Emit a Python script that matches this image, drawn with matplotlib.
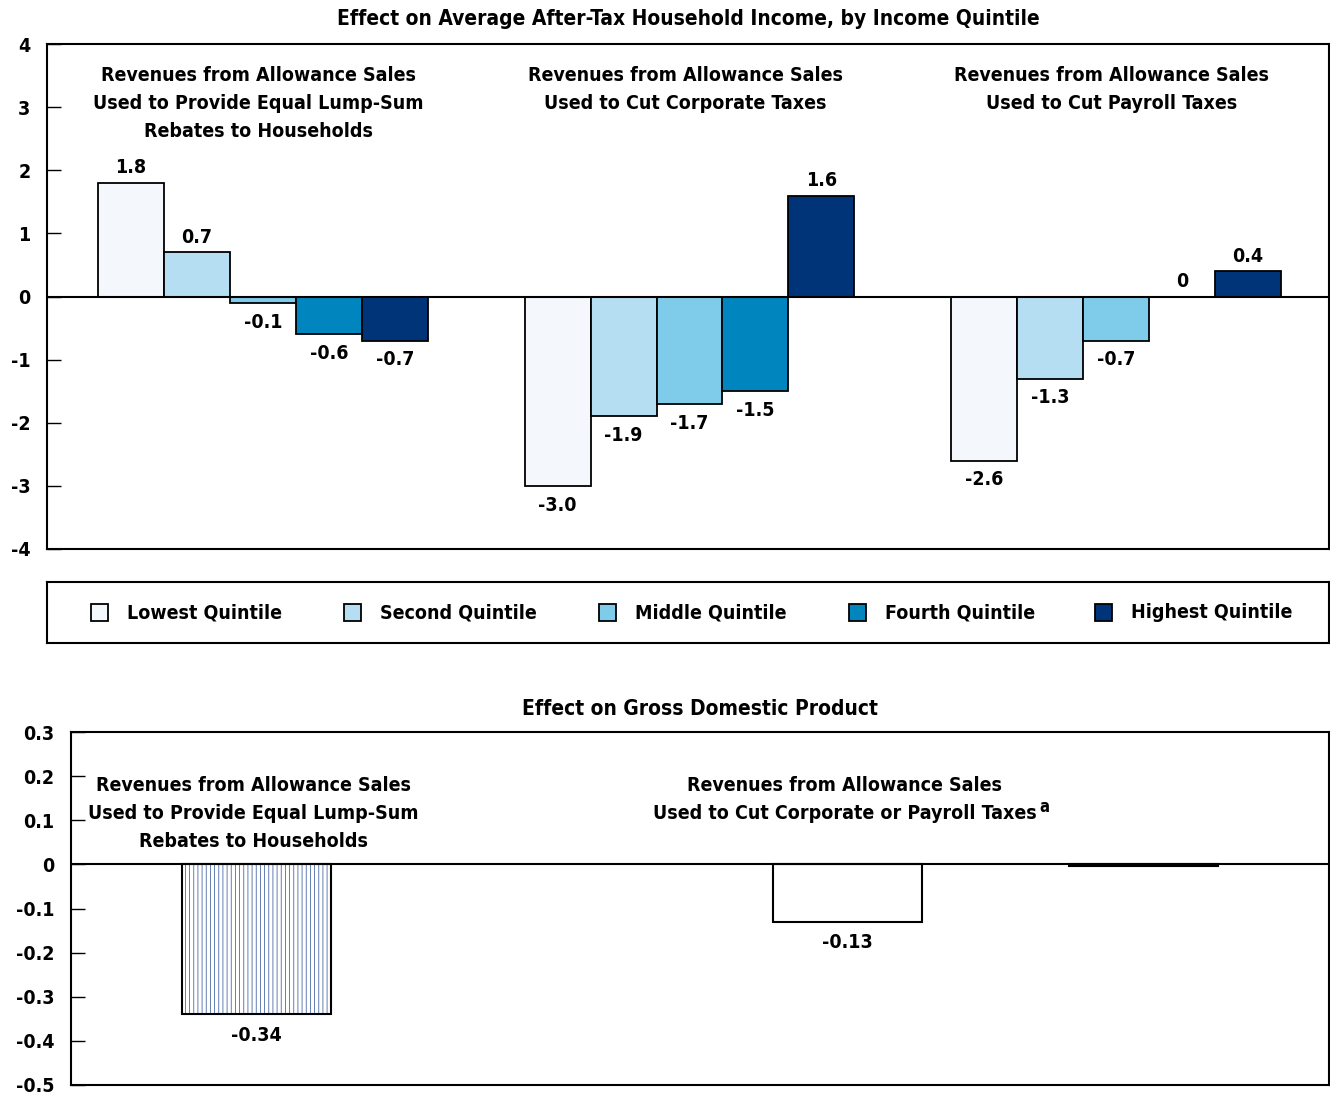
import matplotlib
matplotlib.use("Agg")
import matplotlib.pyplot as plt
from matplotlib.patches import Rectangle
import numpy as np

# ---- data ----
quintiles = ["Lowest Quintile", "Second Quintile", "Middle Quintile",
             "Fourth Quintile", "Highest Quintile"]
scenarios_top = [
    "Revenues from Allowance Sales\nUsed to Provide Equal Lump-Sum\nRebates to Households",
    "Revenues from Allowance Sales\nUsed to Cut Corporate Taxes",
    "Revenues from Allowance Sales\nUsed to Cut Payroll Taxes",
]
lump_sum = [1.8, 0.7, -0.1, -0.6, -0.7]
corporate = [-3.0, -1.9, -1.7, -1.5, 1.6]
payroll = [-2.6, -1.3, -0.7, 0.0, 0.4]
top_labels = [["1.8", "0.7", "-0.1", "-0.6", "-0.7"],
              ["-3.0", "-1.9", "-1.7", "-1.5", "1.6"],
              ["-2.6", "-1.3", "-0.7", "0", "0.4"]]
top_ticks = [-4, -3, -2, -1, 0, 1, 2, 3, 4]

gdp_bars = ["Lump-Sum Rebates", "Corporate Taxes", "Payroll Taxes"]
gdp_values = [-0.34, -0.13, -0.003]
gdp_labels = ["-0.34", "-0.13", ""]
bottom_ticks = [-0.5, -0.4, -0.3, -0.2, -0.1, 0, 0.1, 0.2, 0.3]
bottom_ticklabels = ["-0.5", "-0.4", "-0.3", "-0.2", "-0.1", "0", "0.1", "0.2", "0.3"]

colors = ["#F4F8FC", "#B5DEF3", "#7FCCEA", "#0085BE", "#003478"]

plt.rcParams["font.family"] = "DejaVu Sans"
plt.rcParams["font.stretch"] = "condensed"
plt.rcParams["font.weight"] = "bold"
plt.rcParams["hatch.linewidth"] = 0.6
plt.rcParams["hatch.color"] = "#4a6aa8"

W, H = 1330, 1097
fig = plt.figure(figsize=(W / 100, H / 100), dpi=100)

def rect(x0, y0, x1, y1):
    return [x0 / W, 1 - y1 / H, (x1 - x0) / W, (y1 - y0) / H]

fs = 14
tfs = 15
LS = 1.6
# ---- top panel ----
ax = fig.add_axes(rect(47, 44, 1329, 549))
data = [lump_sum, corporate, payroll]
bw = 0.1546
for g, vals in enumerate(data):
    for i, v in enumerate(vals):
        x = g + (i - 2) * bw
        ax.bar(x, v, width=bw, color=colors[i], edgecolor="black", linewidth=1.3, zorder=2)
        lab = top_labels[g][i]
        if v >= 0:
            ax.annotate(lab, (x, v), xytext=(0, 4), textcoords="offset points",
                        ha="center", va="bottom", fontsize=fs, fontweight="bold")
        else:
            ax.annotate(lab, (x, v), xytext=(0, -7), textcoords="offset points",
                        ha="center", va="top", fontsize=fs, fontweight="bold")
    ax.text(g - 0.01, 3.65, scenarios_top[g], ha="center", va="top", fontsize=fs,
            fontweight="bold", linespacing=LS)
ax.axhline(0, color="black", linewidth=1.5, zorder=3)
ax.set_xlim(-0.506, 2.499)
ax.set_ylim(-4, 4)
ax.set_yticks(top_ticks)
ax.set_yticklabels([str(t) for t in top_ticks], fontsize=fs, fontweight="bold")
ax.tick_params(axis="y", direction="in", length=10, width=1, pad=12)
ax.set_xticks([])
for s in ax.spines.values():
    s.set_linewidth(1.5)
ax.set_title("Effect on Average After-Tax Household Income, by Income Quintile",
             fontsize=tfs, fontweight="bold", pad=14)

# ---- legend panel ----
axl = fig.add_axes(rect(47, 582, 1329, 643))
axl.set_xticks([]); axl.set_yticks([])
axl.set_xlim(47, 1329); axl.set_ylim(643, 582)
for s in axl.spines.values():
    s.set_linewidth(1.5)
leg_x = [91, 344, 599, 849, 1095]
for c, q, lx in zip(colors, quintiles, leg_x):
    axl.add_patch(Rectangle((lx, 604), 17, 17, facecolor=c, edgecolor="black", linewidth=1.3))
    axl.text(lx + 36, 612.5, q, ha="left", va="center", fontsize=fs, fontweight="bold")

# ---- bottom panel ----
ax2 = fig.add_axes(rect(71, 732, 1329, 1085))
xpos = [0, 2, 3]
bw2 = 0.503
for i, (v, lab) in enumerate(zip(gdp_values, gdp_labels)):
    if i == 0:
        ax2.bar(xpos[i], v, width=bw2, facecolor="white", edgecolor="#4a6aa8",
                hatch="||||", linewidth=0, zorder=2)
        ax2.bar(xpos[i], v, width=bw2, facecolor="none", edgecolor="black",
                linewidth=1.5, zorder=2)
    else:
        ax2.bar(xpos[i], v, width=bw2, facecolor="white", edgecolor="black",
                linewidth=1.5, zorder=2)
    if lab:
        ax2.annotate(lab, (xpos[i], v), xytext=(0, -8), textcoords="offset points",
                     ha="center", va="top", fontsize=fs, fontweight="bold")
ax2.axhline(0, color="black", linewidth=1.5, zorder=3)
ax2.text(-0.01, 0.201, "Revenues from Allowance Sales\nUsed to Provide Equal Lump-Sum\nRebates to Households",
         ha="center", va="top", fontsize=fs, fontweight="bold", linespacing=LS)
t2 = ax2.text(1.99, 0.201, "Revenues from Allowance Sales\nUsed to Cut Corporate or Payroll Taxes",
              ha="center", va="top", fontsize=fs, fontweight="bold", linespacing=LS)
ax2.annotate("a", (1.0, 0.0), xycoords=t2, xytext=(2, 5), textcoords="offset points",
             ha="left", va="bottom", fontsize=12, fontweight="bold")
ax2.set_xlim(-0.627, 3.627)
ax2.set_ylim(-0.5, 0.3)
ax2.set_yticks(bottom_ticks)
ax2.set_yticklabels(bottom_ticklabels, fontsize=fs, fontweight="bold")
ax2.tick_params(axis="y", direction="in", length=10, width=1, pad=12)
ax2.set_xticks([])
for s in ax2.spines.values():
    s.set_linewidth(1.5)
ax2.set_title("Effect on Gross Domestic Product", fontsize=tfs, fontweight="bold", pad=12)

fig.savefig("out.png", dpi=100)
